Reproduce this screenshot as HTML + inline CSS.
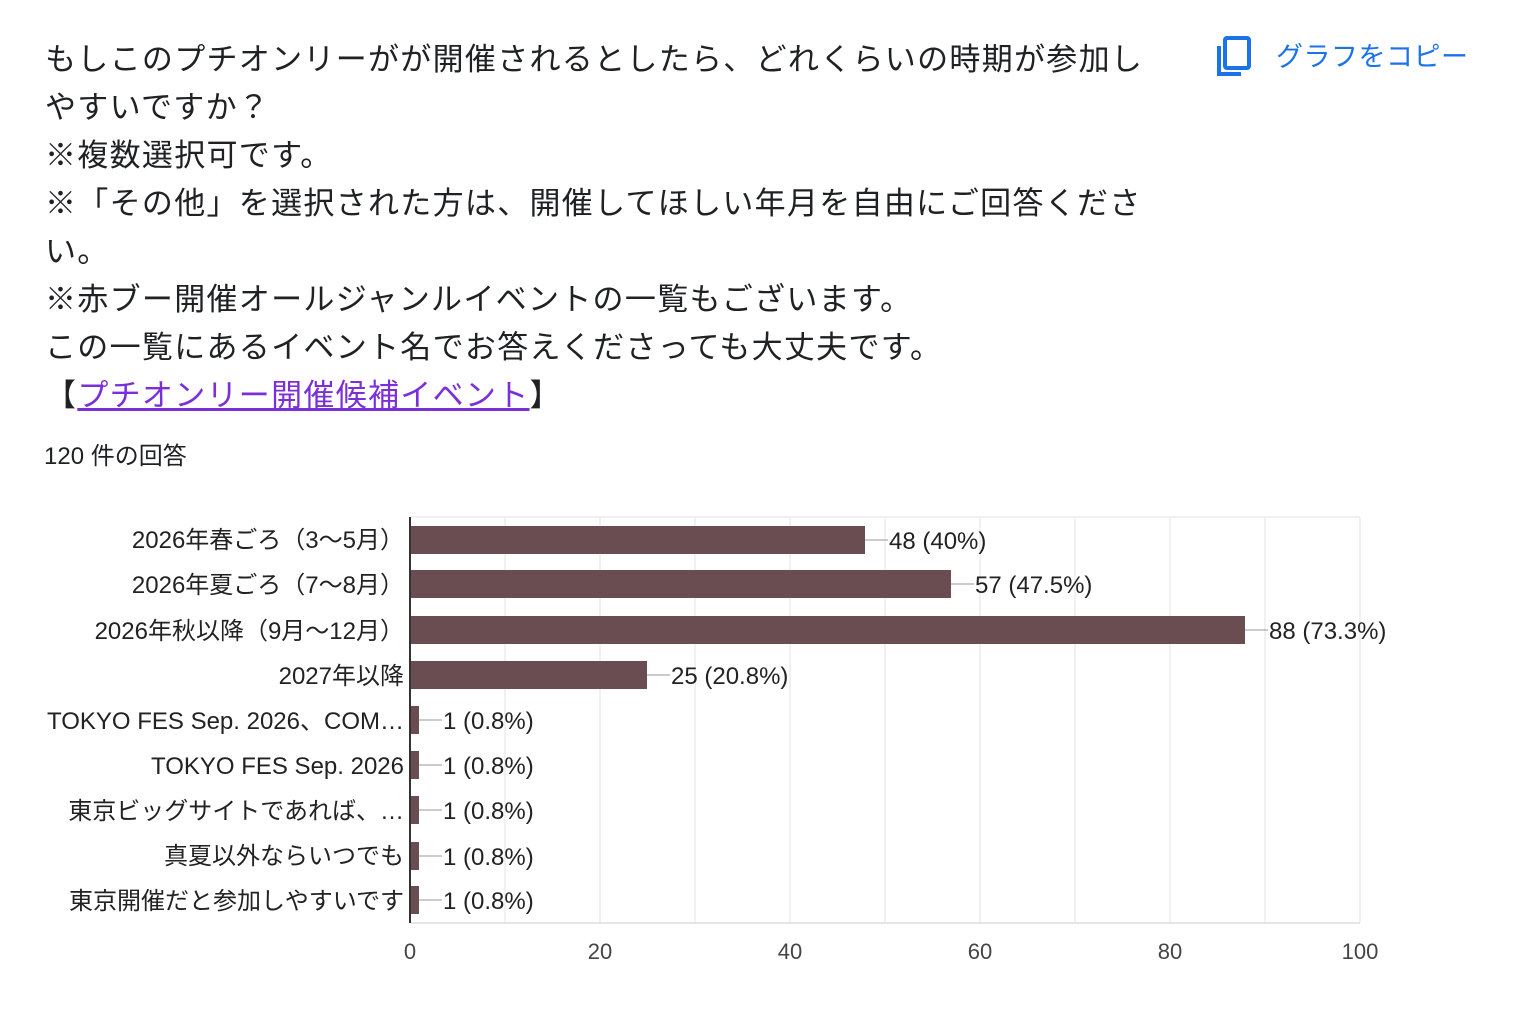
<!DOCTYPE html>
<html><head><meta charset="utf-8"><style>
body{margin:0;background:#fff;width:1522px;height:1024px;overflow:hidden;font-family:"Liberation Sans","Noto Sans CJK JP",sans-serif;}
.q{position:absolute;left:45px;top:36px;width:1200px;font-size:31px;line-height:48px;color:#202124;letter-spacing:1.3px;white-space:nowrap}
.q a{color:#7b2fd9;text-decoration:underline}
.cnt{position:absolute;left:44px;top:436px;font-size:24px;color:#202124}
.copy{position:absolute;left:1276px;top:35px;font-size:27px;color:#1a73e8;letter-spacing:0.5px}
</style></head><body>
<div class="q">もしこのプチオンリーがが開催されるとしたら、どれくらいの時期が参加し<br>やすいですか？<br>※複数選択可です。<br>※「その他」を選択された方は、開催してほしい年月を自由にご回答くださ<br>い。<br>※赤ブー開催オールジャンルイベントの一覧もございます。<br>この一覧にあるイベント名でお答えくださっても大丈夫です。<br>【<a>プチオンリー開催候補イベント</a>】</div>
<div class="cnt">120 件の回答</div>
<svg style="position:absolute;left:1216px;top:36px" width="40" height="42"><rect x="9" y="2" width="24" height="30" rx="2" fill="none" stroke="#1a73e8" stroke-width="4"/><path d="M3 10 V38 H25" fill="none" stroke="#1a73e8" stroke-width="4"/></svg>
<div class="copy">グラフをコピー</div>
<svg style="position:absolute;left:0;top:0" width="1522" height="1024" font-family="Liberation Sans, Noto Sans CJK JP, sans-serif">
<g stroke="#f1f1f1" stroke-width="2">
<line x1="410" y1="517" x2="1360" y2="517"/>
<line x1="505" y1="517" x2="505" y2="923"/><line x1="600" y1="517" x2="600" y2="923"/><line x1="695" y1="517" x2="695" y2="923"/><line x1="790" y1="517" x2="790" y2="923"/><line x1="885" y1="517" x2="885" y2="923"/><line x1="980" y1="517" x2="980" y2="923"/><line x1="1075" y1="517" x2="1075" y2="923"/><line x1="1170" y1="517" x2="1170" y2="923"/><line x1="1265" y1="517" x2="1265" y2="923"/><line x1="1360" y1="517" x2="1360" y2="923"/>
</g>
<line x1="410" y1="923" x2="1360" y2="923" stroke="#ccc" stroke-width="1"/>
<g fill="#694d51">
<rect x="410" y="526" width="455" height="28"/>
<rect x="410" y="570" width="541" height="28"/>
<rect x="410" y="616" width="835" height="28"/>
<rect x="410" y="661" width="237" height="28"/>
<rect x="410" y="706" width="9" height="28"/>
<rect x="410" y="751" width="9" height="28"/>
<rect x="410" y="796" width="9" height="28"/>
<rect x="410" y="842" width="9" height="28"/>
<rect x="410" y="886" width="9" height="28"/>
</g>
<line x1="410" y1="517" x2="410" y2="923" stroke="#333" stroke-width="2"/>
<g stroke="#999" stroke-width="1">
<line x1="865" y1="540" x2="888" y2="540"/><line x1="951" y1="584" x2="974" y2="584"/><line x1="1245" y1="630" x2="1268" y2="630"/><line x1="647" y1="675" x2="670" y2="675"/>
<line x1="419" y1="720" x2="442" y2="720"/><line x1="419" y1="765" x2="442" y2="765"/><line x1="419" y1="810" x2="442" y2="810"/><line x1="419" y1="856" x2="442" y2="856"/><line x1="419" y1="900" x2="442" y2="900"/>
</g>
<g font-size="24" fill="#222">
<text x="889" y="549">48 (40%)</text><text x="975" y="593">57 (47.5%)</text><text x="1269" y="639">88 (73.3%)</text><text x="671" y="684">25 (20.8%)</text>
<text x="443" y="729">1 (0.8%)</text><text x="443" y="774">1 (0.8%)</text><text x="443" y="819">1 (0.8%)</text><text x="443" y="865">1 (0.8%)</text><text x="443" y="909">1 (0.8%)</text>
</g>
<g font-size="24" fill="#222" text-anchor="end">
<text x="404" y="548">2026年春ごろ（3〜5月）</text>
<text x="404" y="593">2026年夏ごろ（7〜8月）</text>
<text x="404" y="639">2026年秋以降（9月〜12月）</text>
<text x="404" y="684">2027年以降</text>
<text x="404" y="729">TOKYO FES Sep. 2026、COM…</text>
<text x="404" y="774">TOKYO FES Sep. 2026</text>
<text x="404" y="819">東京ビッグサイトであれば、…</text>
<text x="404" y="864">真夏以外ならいつでも</text>
<text x="404" y="909">東京開催だと参加しやすいです</text>
</g>
<g font-size="22" fill="#444" text-anchor="middle">
<text x="410" y="959">0</text><text x="600" y="959">20</text><text x="790" y="959">40</text><text x="980" y="959">60</text><text x="1170" y="959">80</text><text x="1360" y="959">100</text>
</g>
</svg>
</body></html>
